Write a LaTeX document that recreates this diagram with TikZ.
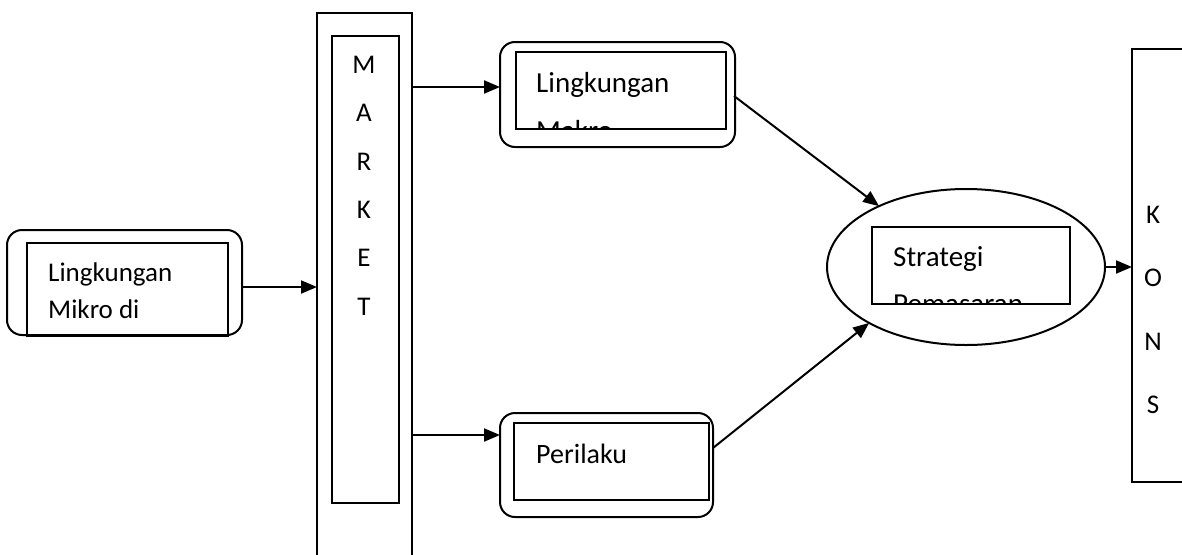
\documentclass[tikz,border=0pt]{standalone}
\usepackage{fontspec}
\setmainfont{Carlito}
\usetikzlibrary{arrows.meta,shapes.geometric}
\begin{document}
\begin{tikzpicture}[x=1pt,y=-1pt,
  outerbox/.style={draw, line width=2pt, rounded corners=15pt, inner sep=0pt, outer sep=0pt},
  innerbox/.style={draw, line width=1.8pt, inner sep=0pt, outer sep=0pt},
  plainbox/.style={draw, line width=1.8pt, inner sep=0pt, outer sep=0pt},
  lbl/.style={font=\fontsize{28}{34}\selectfont, anchor=base west, inner sep=0pt},
  letter/.style={font=\fontsize{27}{32}\selectfont, inner sep=0pt},
  conn/.style={line width=2pt, -{Triangle[length=16pt,width=13pt]}}]
\useasboundingbox (0,0) rectangle (1182,554);

% left box
\node[outerbox, minimum width=235pt, minimum height=105pt] (lo) at (124.5,282.5) {};
\node[innerbox, minimum width=201pt, minimum height=93pt] (li) at (127.5,289.5) {};
\node[lbl, font=\fontsize{27}{32}\selectfont] (lt1) at (48,281) {Lingkungan};
\node[lbl, font=\fontsize{27}{32}\selectfont] (lt2) at (48,318) {Mikro di};

% MARKET
\node[plainbox, minimum width=95pt, minimum height=580pt] (mo) at (364.5,303) {};
\node[innerbox, minimum width=67pt, minimum height=467pt] (mi) at (365.5,269.5) {};
\node[letter] (m1) at (364,65) {M};
\node[letter] (m2) at (364,113) {A};
\node[letter] (m3) at (364,162) {R};
\node[letter] (m4) at (364,210) {K};
\node[letter] (m5) at (364,258) {E};
\node[letter] (m6) at (364,307) {T};

% Lingkungan Makro
\node[outerbox, minimum width=235pt, minimum height=105pt] (ko) at (617.5,94.5) {};
\node[innerbox, minimum width=210pt, minimum height=77pt] (ki) at (621,90.5) {};
\begin{scope}
  \clip (ki.north west) rectangle (ki.south east);
  \node[lbl, font=\fontsize{29}{34}\selectfont] (kt1) at (536,92) {Lingkungan};
  \node[lbl, font=\fontsize{29}{34}\selectfont] (kt2) at (536,140) {Makro};
\end{scope}

% Perilaku
\node[outerbox, minimum width=213pt, minimum height=104pt] (po) at (606.5,465) {};
\node[innerbox, minimum width=195pt, minimum height=77pt] (pi) at (611.5,461.5) {};
\node[lbl] (pt) at (536,463) {Perilaku};

% Strategi Pemasaran
\node[draw, ellipse, line width=2pt, minimum width=278pt, minimum height=156pt, inner sep=0pt, outer sep=0pt] (so) at (966,267) {};
\node[innerbox, minimum width=198pt, minimum height=77pt] (si) at (971,265.5) {};
\begin{scope}
  \clip (si.north west) rectangle (si.south east);
  \node[lbl, font=\fontsize{29}{34}\selectfont] (st1) at (893,266) {Strategi};
  \node[lbl, font=\fontsize{29}{34}\selectfont] (st2) at (893,313) {Pemasaran};
\end{scope}

% KONS
\node[plainbox, minimum width=100pt, minimum height=433pt] (kn) at (1182,265.5) {};
\node[letter] (k1) at (1153,215) {K};
\node[letter] (k2) at (1153,278) {O};
\node[letter] (k3) at (1153,342) {N};
\node[letter] (k4) at (1153,405) {S};

% connectors
\draw[conn] ([yshift=-4.5pt]lo.east) -- ([yshift=-4.5pt]lo.east -| mo.west);
\draw[conn] ([yshift=7.5pt]ko.west -| mo.east) -- ([yshift=7.5pt]ko.west);
\draw[conn] ([yshift=30pt]po.west -| mo.east) -- ([yshift=30pt]po.west);
\draw[conn] ([xshift=-1pt,yshift=-1.5pt]ko.east) -- (so.145.5);
\draw[conn] ([yshift=17pt]po.east) -- (so.210.3);
\draw[conn] (so.east) -- (so.east -| kn.west);
\end{tikzpicture}
\end{document}
